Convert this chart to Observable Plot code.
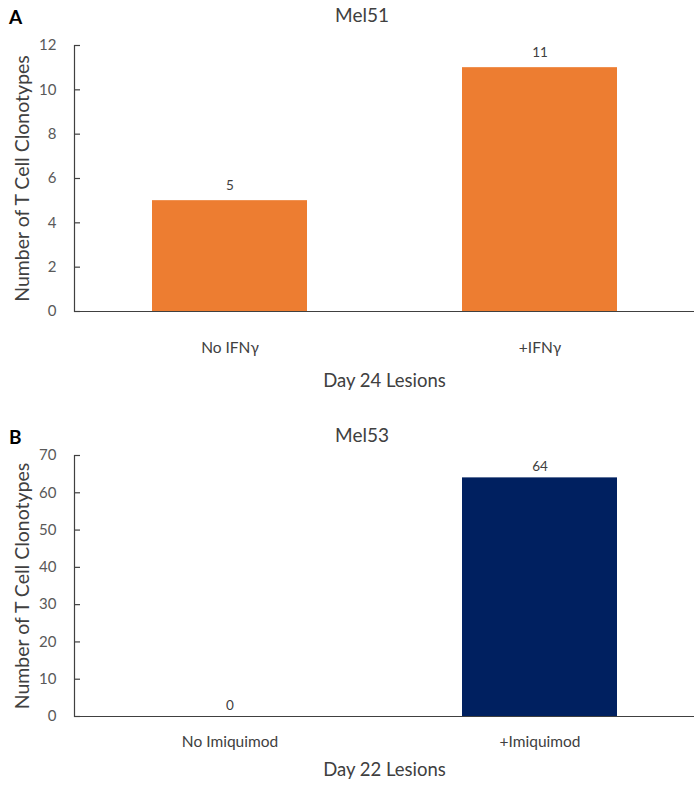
<!DOCTYPE html>
<html>
<head>
<meta charset="utf-8">
<script src="https://cdn.jsdelivr.net/npm/d3@7"></script>
<script src="https://cdn.jsdelivr.net/npm/@observablehq/plot@0.6"></script>
<style>
  body { margin: 0; background: #fff; }
  #wrap { position: relative; width: 697px; height: 785px; font-family: Lato, "Open Sans", sans-serif; overflow: hidden; background: #fff; }
  .panel { position: absolute; left: 0; z-index: 1; }
  .panel svg { overflow: visible; }
  .letter { position: absolute; left: 9px; font-weight: bold; font-size: 19px; color: #000; z-index: 2; }
  .title { position: absolute; width: 200px; text-align: center; font-size: 19px; color: #404040; z-index: 2; }
</style>
</head>
<body>
<div id="wrap">
  <div class="letter" style="top:5px">A</div>
  <div class="title" style="left:262px; top:3px">Mel51</div>
  <div class="panel" id="pA" style="top:30px"></div>
  <div class="letter" style="top:425px">B</div>
  <div class="title" style="left:262px; top:423px">Mel53</div>
  <div class="panel" id="pB" style="top:440px"></div>
</div>
<script>
// Panel A data
const catsA = ["No IFNγ", "+IFNγ"];
const valsA = [5, 11];
const ticksA = [0, 2, 4, 6, 8, 10, 12];
const xLabelA = "Day 24 Lesions";

// Panel B data
const catsB = ["No Imiquimod", "+Imiquimod"];
const valsB = [0, 64];
const ticksB = [0, 10, 20, 30, 40, 50, 60, 70];
const xLabelB = "Day 22 Lesions";

const yTitle = "Number of T Cell Clonotypes";

function panel(cats, vals, ticks, xLabel, color, height, mb, tickDy, labelDy, valDy) {
  const data = cats.map((c, i) => ({cat: c, val: vals[i]}));
  const W = 697, ML = 74, MR = 3;
  const innerW = W - ML - MR;
  return Plot.plot({
    width: W,
    height: height,
    marginLeft: ML,
    marginRight: MR,
    marginTop: 15,
    marginBottom: mb,
    style: {fontFamily: "Lato, 'Open Sans', sans-serif", fontSize: "13px", color: "#595959", background: "transparent", overflow: "visible"},
    x: {domain: cats, paddingInner: 0.5, paddingOuter: 0.25, axis: null},
    y: {domain: [ticks[0], ticks[ticks.length - 1]], axis: null},
    marks: [
      Plot.barY(data, {x: "cat", y: "val", fill: color}),
      Plot.frame({anchor: "left", stroke: "#404040", strokeWidth: 1.2}),
      Plot.ruleY([0], {stroke: "#404040", strokeWidth: 1.2}),
      Plot.tickY(ticks, {y: d => d, stroke: "#404040", strokeWidth: 1.2, insetRight: innerW - 6}),
      Plot.text(ticks, {y: d => d, frameAnchor: "left", dx: -18, textAnchor: "end", fill: "#595959", fontSize: 15}),
      Plot.text(data, {x: "cat", y: "val", text: d => String(d.val), dy: valDy, fill: "#404040", fontSize: 13.5}),
      Plot.text(cats, {x: d => d, frameAnchor: "bottom", dy: tickDy, fill: "#404040", fontSize: 15.5}),
      Plot.text([xLabel], {frameAnchor: "bottom", dy: labelDy, fill: "#404040", fontSize: 18.5}),
      Plot.text([yTitle], {frameAnchor: "left", dx: -52, rotate: -90, textAnchor: "middle", fill: "#404040", fontSize: 19.5})
    ]
  });
}

document.getElementById("pA").append(panel(catsA, valsA, ticksA, xLabelA, "#ED7D31", 366, 85, 41, 75, -15));
document.getElementById("pB").append(panel(catsB, valsB, ticksB, xLabelB, "#002060", 345, 69, 30, 59, -11));
</script>
</body>
</html>
